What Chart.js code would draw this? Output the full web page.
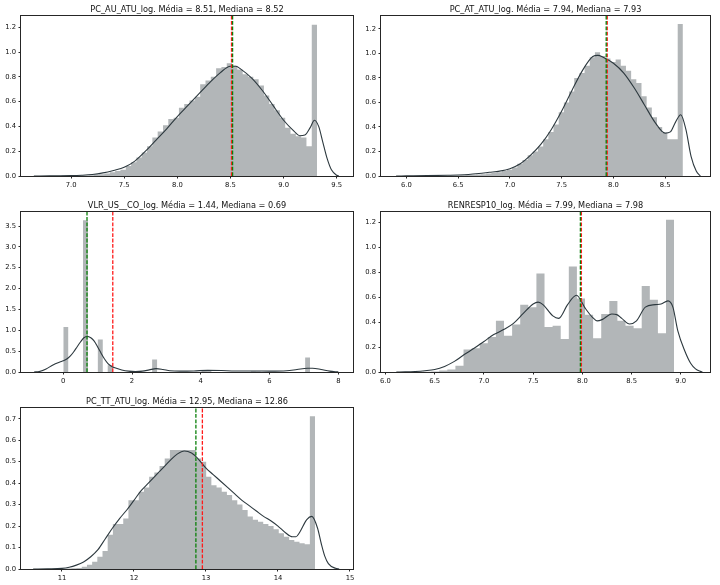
<!DOCTYPE html>
<html lang="pt">
<head>
<meta charset="utf-8">
<title>Distribuições das variáveis (log)</title>
<script src="https://cdn.jsdelivr.net/npm/chart.js@4.4.1/dist/chart.umd.min.js"></script>
<style>
  html, body { margin: 0; padding: 0; background: #fff; }
  body { width: 720px; height: 585px; position: relative; overflow: hidden; }
  canvas { position: absolute; }
</style>
</head>
<body>
<canvas id="g1"></canvas>
<canvas id="g2"></canvas>
<canvas id="g3"></canvas>
<canvas id="g4"></canvas>
<canvas id="g5"></canvas>
<script>
// ---------------- Dados ----------------

// Painel 1 - PC_AU_ATU_log
const nome1 = 'PC_AU_ATU_log';
const media1 = 8.51, mediana1 = 8.52;
const hist1Inicio = 6.815, hist1Largura = 0.05;
const hist1Alturas = [
    0.000, 0.000, 0.002, 0.002, 0.003, 0.004, 0.005, 0.007, 0.010, 0.015,
    0.020, 0.030, 0.040, 0.050, 0.080, 0.110, 0.150, 0.190, 0.240, 0.310,
    0.360, 0.410, 0.460, 0.470, 0.550, 0.580, 0.610, 0.640, 0.740, 0.770,
    0.800, 0.870, 0.880, 0.910, 0.890, 0.860, 0.820, 0.800, 0.780, 0.730,
    0.650, 0.580, 0.530, 0.470, 0.390, 0.340, 0.320, 0.310, 0.240, 1.220
];
const kde1X = [6.65, 6.8, 7.0, 7.1, 7.2, 7.3, 7.4, 7.5, 7.6, 7.7, 7.8, 7.9, 8.0, 8.1, 8.2, 8.3, 8.4, 8.5, 8.55, 8.6,
    8.7, 8.8, 8.9, 9.0, 9.1, 9.15, 9.2, 9.25, 9.29, 9.33, 9.37, 9.41, 9.45, 9.5, 9.52];
const kde1Y = [0, 0.001, 0.003, 0.006, 0.012, 0.025, 0.045, 0.07, 0.12, 0.20, 0.29, 0.38, 0.48, 0.57, 0.66, 0.75, 0.83, 0.885, 0.885, 0.86,
    0.79, 0.69, 0.57, 0.45, 0.36, 0.325, 0.33, 0.39, 0.45, 0.40, 0.27, 0.14, 0.05, 0.006, 0];
const xTicks1 = [7.0, 7.5, 8.0, 8.5, 9.0, 9.5];
const yTicks1 = [0.0, 0.2, 0.4, 0.6, 0.8, 1.0, 1.2];

// Painel 2 - PC_AT_ATU_log
const nome2 = 'PC_AT_ATU_log';
const media2 = 7.94, mediana2 = 7.93;
const hist2Inicio = 6.171, hist2Largura = 0.05;
const hist2Alturas = [
    0.000, 0.000, 0.002, 0.002, 0.003, 0.004, 0.005, 0.006, 0.008, 0.010,
    0.012, 0.015, 0.020, 0.025, 0.030, 0.040, 0.050, 0.070, 0.100, 0.130,
    0.170, 0.200, 0.240, 0.300, 0.360, 0.420, 0.520, 0.600, 0.690, 0.800,
    0.840, 0.900, 0.970, 1.010, 0.980, 0.960, 0.930, 0.950, 0.900, 0.860,
    0.790, 0.760, 0.650, 0.560, 0.480, 0.400, 0.350, 0.300, 0.300, 1.240
];
const kde2X = [5.9, 6.0, 6.2, 6.4, 6.5, 6.6, 6.7, 6.8, 6.9, 7.0, 7.1, 7.2, 7.3, 7.4, 7.5, 7.6, 7.7, 7.8, 7.85, 7.9,
    8.0, 8.1, 8.2, 8.3, 8.4, 8.5, 8.55, 8.6, 8.65, 8.7, 8.75, 8.8, 8.84];
const kde2Y = [0, 0.001, 0.003, 0.006, 0.008, 0.012, 0.02, 0.03, 0.04, 0.06, 0.10, 0.17, 0.26, 0.38, 0.53, 0.70, 0.86, 0.975, 0.985, 0.97,
    0.92, 0.84, 0.72, 0.58, 0.44, 0.35, 0.36, 0.44, 0.50, 0.38, 0.16, 0.04, 0];
const xTicks2 = [6.0, 6.5, 7.0, 7.5, 8.0, 8.5];
const yTicks2 = [0.0, 0.2, 0.4, 0.6, 0.8, 1.0, 1.2];

// Painel 3 - VLR_US__CO_log
const nome3 = 'VLR_US__CO_log';
const media3 = 1.44, mediana3 = 0.69;
const hist3Inicio = 0.0, hist3Largura = 0.1436;
const hist3Alturas = [
    1.080, 0, 0, 0, 3.640, 0, 0, 0.780, 0, 0.160,
    0, 0, 0, 0, 0, 0, 0, 0, 0.300, 0,
    0, 0, 0, 0, 0, 0, 0, 0, 0.030, 0.050,
    0, 0, 0, 0, 0, 0, 0, 0, 0.020, 0.010,
    0, 0, 0, 0, 0, 0, 0, 0, 0, 0.350
];
const kde3X = [-0.85, -0.7, -0.5, -0.3, -0.1, 0.0, 0.1, 0.2, 0.3, 0.4, 0.5, 0.6, 0.7, 0.8, 0.9, 1.0, 1.1, 1.2, 1.3, 1.4,
    1.5, 1.7, 1.9, 2.1, 2.3, 2.5, 2.7, 2.9, 3.1, 3.4, 3.8, 4.2, 4.6, 5.0, 5.5, 6.0, 6.5, 6.8, 7.1, 7.25,
    7.5, 7.75, 8.0];
const kde3Y = [0, 0.01, 0.07, 0.17, 0.24, 0.27, 0.31, 0.38, 0.48, 0.60, 0.72, 0.82, 0.855, 0.82, 0.74, 0.60, 0.45, 0.31, 0.20, 0.14,
    0.10, 0.05, 0.02, 0.01, 0.02, 0.05, 0.08, 0.06, 0.03, 0.02, 0.025, 0.04, 0.035, 0.025, 0.025, 0.02, 0.03, 0.06, 0.09, 0.09,
    0.06, 0.02, 0.002];
const xTicks3 = [0, 2, 4, 6, 8];
const yTicks3 = [0.0, 0.5, 1.0, 1.5, 2.0, 2.5, 3.0, 3.5];

// Painel 4 - RENRESP10_log
const nome4 = 'RENRESP10_log';
const media4 = 7.99, mediana4 = 7.98;
const hist4Inicio = 6.381, hist4Largura = 0.0823;
const hist4Alturas = [
    0.003, 0.005, 0.012, 0.020, 0.050, 0.180, 0.190, 0.230, 0.280, 0.410,
    0.290, 0.380, 0.540, 0.520, 0.790, 0.360, 0.370, 0.265, 0.845, 0.590,
    0.460, 0.270, 0.465, 0.570, 0.410, 0.370, 0.350, 0.690, 0.580, 0.310,
    1.220
];
const kde4X = [6.11, 6.2, 6.3, 6.4, 6.5, 6.6, 6.7, 6.8, 6.9, 7.0, 7.1, 7.2, 7.3, 7.4, 7.5, 7.55, 7.6, 7.7, 7.76, 7.85,
    7.94, 8.03, 8.1, 8.15, 8.2, 8.3, 8.35, 8.4, 8.48, 8.55, 8.64, 8.74, 8.8, 8.87, 8.92, 8.97, 9.04, 9.1, 9.15, 9.2,
    9.22];
const kde4Y = [0, 0.001, 0.004, 0.01, 0.02, 0.045, 0.085, 0.14, 0.19, 0.245, 0.30, 0.34, 0.39, 0.47, 0.545, 0.56, 0.54, 0.45, 0.43, 0.54,
    0.615, 0.51, 0.44, 0.41, 0.42, 0.465, 0.46, 0.43, 0.385, 0.41, 0.52, 0.54, 0.545, 0.57, 0.52, 0.33, 0.17, 0.07, 0.025, 0.005,
    0];
const xTicks4 = [6.0, 6.5, 7.0, 7.5, 8.0, 8.5, 9.0];
const yTicks4 = [0.0, 0.2, 0.4, 0.6, 0.8, 1.0, 1.2];

// Painel 5 - PC_TT_ATU_log
const nome5 = 'PC_TT_ATU_log';
const media5 = 12.95, mediana5 = 12.86;
const hist5Inicio = 10.915, hist5Largura = 0.072;
const hist5Alturas = [
    0.000, 0.001, 0.002, 0.003, 0.005, 0.010, 0.020, 0.034, 0.057, 0.084,
    0.160, 0.210, 0.210, 0.235, 0.320, 0.320, 0.360, 0.380, 0.430, 0.450,
    0.480, 0.515, 0.554, 0.554, 0.554, 0.554, 0.554, 0.515, 0.500, 0.430,
    0.390, 0.380, 0.360, 0.345, 0.320, 0.300, 0.275, 0.245, 0.230, 0.220,
    0.210, 0.200, 0.185, 0.166, 0.150, 0.135, 0.127, 0.120, 0.115, 0.712
];
const kde5X = [10.6, 10.8, 11.0, 11.1, 11.2, 11.3, 11.4, 11.5, 11.6, 11.7, 11.8, 11.9, 12.0, 12.1, 12.2, 12.3, 12.4, 12.5, 12.6, 12.7,
    12.8, 12.9, 13.0, 13.1, 13.2, 13.3, 13.4, 13.5, 13.6, 13.7, 13.8, 13.9, 14.0, 14.1, 14.2, 14.25, 14.3, 14.4, 14.47, 14.55,
    14.6, 14.65, 14.7, 14.8, 14.85];
const kde5Y = [0, 0.001, 0.003, 0.008, 0.018, 0.033, 0.057, 0.09, 0.14, 0.19, 0.235, 0.275, 0.32, 0.365, 0.40, 0.435, 0.47, 0.505, 0.535, 0.55,
    0.54, 0.51, 0.47, 0.44, 0.41, 0.38, 0.35, 0.32, 0.295, 0.27, 0.245, 0.225, 0.20, 0.17, 0.15, 0.15, 0.17, 0.23, 0.245, 0.19,
    0.12, 0.06, 0.025, 0.003, 0];
const xTicks5 = [11, 12, 13, 14, 15];
const yTicks5 = [0.0, 0.1, 0.2, 0.3, 0.4, 0.5, 0.6, 0.7];

// ---------------- Aparência ----------------
const corBarra = '#b2b6b8';
const corKde = '#2c383e';
const corMedia = '#ff1a1a';
const corMediana = '#0a800a';
const fonte = 'DejaVu Sans';

// Plugin que desenha a moldura dos eixos e o título acima de cada painel
const pluginMoldura = {
    id: 'moldura',
    afterDraw(chart, args, opts) {
        const { ctx, chartArea: a } = chart;
        ctx.save();
        ctx.strokeStyle = '#262626';
        ctx.lineWidth = 1;
        ctx.strokeRect(a.left - 0.5, a.top - 0.5, a.right - a.left + 1, a.bottom - a.top + 1);
        ctx.fillStyle = '#111';
        ctx.font = '8.2px "' + fonte + '"';
        ctx.textAlign = 'center';
        ctx.textBaseline = 'alphabetic';
        ctx.fillText(opts.texto, (a.left + a.right) / 2, a.top - 3.6);
        ctx.restore();
    }
};

// Monta os pontos do histograma (degraus) a partir das bordas das classes
function pontosHistograma(inicio, largura, alturas) {
    const pts = alturas.map((h, k) => ({ x: inicio + k * largura, y: h }));
    pts.push({ x: inicio + alturas.length * largura, y: 0 });
    return pts;
}

function eixo(ticks, casas, min, max, tamanho, horizontal) {
    return {
        type: 'linear',
        min: min,
        max: max,
        border: { display: false },
        grid: { drawOnChartArea: false, drawTicks: true, tickLength: 2.5, color: '#262626', lineWidth: 1 },
        ticks: {
            autoSkip: false,
            maxRotation: 0,
            padding: 2.4,
            color: '#111',
            font: { family: fonte, size: 6.8 },
            callback: v => Number(v).toFixed(casas)
        },
        afterBuildTicks: escala => { escala.ticks = ticks.map(v => ({ value: v })); },
        afterFit: escala => {
            if (horizontal) escala.height = tamanho; else escala.width = tamanho;
            escala.paddingLeft = 0; escala.paddingRight = 0;
            escala.paddingTop = 0; escala.paddingBottom = 0;
        }
    };
}

function criarPainel(p) {
    const canvas = document.getElementById(p.id);
    const [l, t, r, b] = p.area;
    const mEsq = 28, mTopo = 20, mDir = 12, mBase = 16;
    const largura = r - l + mEsq + mDir;
    const altura = b - t + mTopo + mBase;
    canvas.width = largura;
    canvas.height = altura;
    canvas.style.left = (l - mEsq) + 'px';
    canvas.style.top = (t - mTopo) + 'px';
    canvas.style.width = largura + 'px';
    canvas.style.height = altura + 'px';

    const titulo = p.nome + '. Média = ' + p.media.toFixed(2) + ', Mediana = ' + p.mediana.toFixed(2);

    new Chart(canvas.getContext('2d'), {
        type: 'line',
        data: {
            datasets: [
                {
                    data: pontosHistograma(p.histInicio, p.histLargura, p.histAlturas),
                    stepped: true,
                    fill: 'origin',
                    backgroundColor: corBarra,
                    borderColor: 'rgba(0,0,0,0)',
                    borderWidth: 0,
                    pointRadius: 0,
                    order: 4
                },
                {
                    data: p.kdeX.map((x, i) => ({ x: x, y: p.kdeY[i] })),
                    borderColor: corKde,
                    borderWidth: 1.1,
                    cubicInterpolationMode: 'monotone',
                    fill: false,
                    pointRadius: 0,
                    order: 3
                },
                {
                    data: [{ x: p.media, y: 0 }, { x: p.media, y: p.yMax }],
                    borderColor: corMedia,
                    borderWidth: 1.3,
                    borderDash: [3.8, 1.6],
                    fill: false,
                    pointRadius: 0,
                    order: 2
                },
                {
                    data: [{ x: p.mediana, y: 0 }, { x: p.mediana, y: p.yMax }],
                    borderColor: corMediana,
                    borderWidth: 1.3,
                    borderDash: [3.8, 1.6],
                    fill: false,
                    pointRadius: 0,
                    order: 1
                }
            ]
        },
        options: {
            responsive: false,
            animation: false,
            devicePixelRatio: 1,
            events: [],
            layout: { padding: { top: mTopo, right: mDir, left: 0, bottom: 0 } },
            plugins: {
                legend: { display: false },
                tooltip: { enabled: false },
                moldura: { texto: titulo }
            },
            scales: {
                x: eixo(p.xTicks, p.xCasas, p.xMin, p.xMax, mBase, true),
                y: eixo(p.yTicks, 1, 0, p.yMax, mEsq, false)
            }
        },
        plugins: [pluginMoldura]
    });
}

// ---------------- Painéis ----------------
criarPainel({
    id: 'g1', area: [21, 16, 353, 176], nome: nome1, media: media1, mediana: mediana1,
    histInicio: hist1Inicio, histLargura: hist1Largura, histAlturas: hist1Alturas,
    kdeX: kde1X, kdeY: kde1Y, xTicks: xTicks1, yTicks: yTicks1, xCasas: 1,
    xMin: 6.529, xMax: 9.653, yMax: 1.291
});
criarPainel({
    id: 'g2', area: [381, 16, 710, 176], nome: nome2, media: media2, mediana: mediana2,
    histInicio: hist2Inicio, histLargura: hist2Largura, histAlturas: hist2Alturas,
    kdeX: kde2X, kdeY: kde2Y, xTicks: xTicks2, yTicks: yTicks2, xCasas: 1,
    xMin: 5.754, xMax: 8.933, yMax: 1.306
});
criarPainel({
    id: 'g3', area: [21, 212, 353, 372], nome: nome3, media: media3, mediana: mediana3,
    histInicio: hist3Inicio, histLargura: hist3Largura, histAlturas: hist3Alturas,
    kdeX: kde3X, kdeY: kde3Y, xTicks: xTicks3, yTicks: yTicks3, xCasas: 0,
    xMin: -1.23, xMax: 8.428, yMax: 3.836
});
criarPainel({
    id: 'g4', area: [381, 212, 710, 372], nome: nome4, media: media4, mediana: mediana4,
    histInicio: hist4Inicio, histLargura: hist4Largura, histAlturas: hist4Alturas,
    kdeX: kde4X, kdeY: kde4Y, xTicks: xTicks4, yTicks: yTicks4, xCasas: 1,
    xMin: 5.954, xMax: 9.297, yMax: 1.283
});
criarPainel({
    id: 'g5', area: [21, 408, 353, 569], nome: nome5, media: media5, mediana: mediana5,
    histInicio: hist5Inicio, histLargura: hist5Largura, histAlturas: hist5Alturas,
    kdeX: kde5X, kdeY: kde5Y, xTicks: xTicks5, yTicks: yTicks5, xCasas: 0,
    xMin: 10.431, xMax: 15.042, yMax: 0.75
});
</script>
</body>
</html>
